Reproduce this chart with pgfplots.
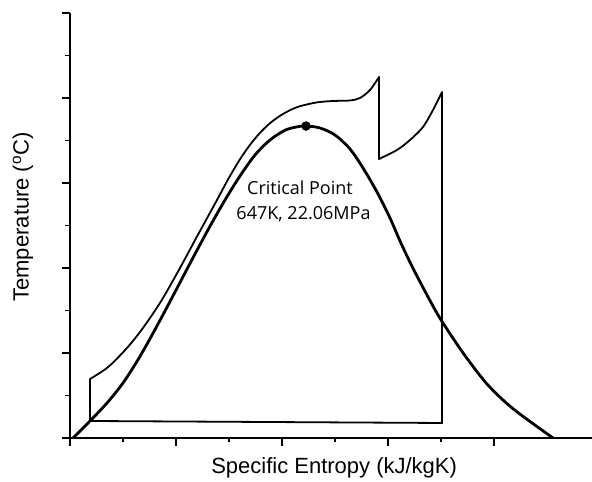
\documentclass[border=0pt]{standalone}
\usepackage{pgfplots}
\pgfplotsset{compat=1.18}
\usepackage{fontspec}
\setmainfont{Liberation Sans}
\newfontfamily\annofont{Open Sans}
\begin{document}
\begin{tikzpicture}
\begin{axis}[
  scale only axis, width=522pt, height=425pt,
  xmin=0, xmax=4.9245, ymin=0, ymax=5,
  axis lines*=left,
  axis line style={line width=1.1pt, black},
  xtick={0,1,2,3,4}, ytick={0,1,2,3,4,5},
  minor x tick num=1, minor y tick num=1,
  xticklabels={}, yticklabels={},
  tick align=outside,
  major tick length=8pt, minor tick length=4.5pt,
  every tick/.style={line width=1.1pt, black},
  clip=false,
  xlabel={Specific Entropy (kJ/kgK)},
  ylabel={Temperature (\textsuperscript{o}C)},
  label style={font=\fontsize{22}{26}\selectfont},
  xlabel style={at={(axis description cs:0.506,-0.07)}, anchor=center},
  ylabel style={at={(axis description cs:-0.09,0.52)}, anchor=center},
]
% saturation dome
\addplot[line width=2.8pt, smooth, black] coordinates {
(0.0283,0) (0.1887,0.2) (0.3491,0.4118) (0.5,0.6471) (0.6415,0.9206)
(0.7547,1.1676) (0.8962,1.4941) (1.0377,1.8294) (1.1792,2.1647) (1.3208,2.4912)
(1.4623,2.8) (1.6038,3.0824) (1.7453,3.3294) (1.8868,3.5059) (2.0283,3.6206)
(2.1415,3.6606) (2.2264,3.6706) (2.3585,3.6471) (2.5,3.5647) (2.6415,3.4)
(2.7642,3.1765) (2.8962,2.8941) (3.0189,2.5882) (3.1132,2.3176) (3.2358,1.9965)
(3.3962,1.6165) (3.5,1.39) (3.7075,1.0018) (3.9340,0.6353) (4.1792,0.3447) (4.5566,0)
};
% critical point
\addplot[only marks, mark=*, mark size=4.5pt, black] coordinates {(2.2264,3.67)};
% cycle
\addplot[line width=1.8pt, black, sharp plot, line join=miter] coordinates {
(0.1887,0.6941) (0.1887,0.2) (3.5094,0.1765) (3.5094,4.0706)
};
\addplot[line width=1.8pt, black, smooth, line cap=round] coordinates {
(3.5094,4.0706) (3.4245,3.8588) (3.3302,3.6588) (3.2075,3.5059) (3.0849,3.3882) (2.9151,3.2824)
};
\addplot[line width=1.8pt, black, sharp plot, line cap=round] coordinates {
(2.9151,3.2824) (2.9151,4.2471)
};
\addplot[line width=1.8pt, black, smooth, line cap=round] coordinates {
(2.9151,4.2471) (2.8302,4.0941) (2.7358,4.0) (2.6415,3.9706) (2.4811,3.9647)
(2.3302,3.9484) (2.1698,3.9035) (2.0755,3.8563) (1.9811,3.7902) (1.8868,3.7034)
(1.7925,3.5902) (1.6981,3.4486) (1.6038,3.2789) (1.4906,3.0412) (1.3868,2.8)
(1.1981,2.3706) (1.0377,2.0) (0.8774,1.6471) (0.7547,1.4118) (0.6604,1.2471)
(0.566,1.1) (0.4717,0.9706) (0.3491,0.8235) (0.1887,0.6941)
};
\node[font=\annofont\fontsize{18}{21}\selectfont, anchor=base] at (axis cs:2.170,2.8588) {Critical Point};
\node[font=\annofont\fontsize{18}{21}\selectfont, anchor=base] at (axis cs:2.203,2.5647) {647K, 22.06MPa};
\end{axis}
\pgfresetboundingbox
\path ([shift={(-70pt,-44pt)}]current axis.south west) rectangle ([shift={(0pt,13pt)}]current axis.north east);
\end{tikzpicture}
\end{document}
